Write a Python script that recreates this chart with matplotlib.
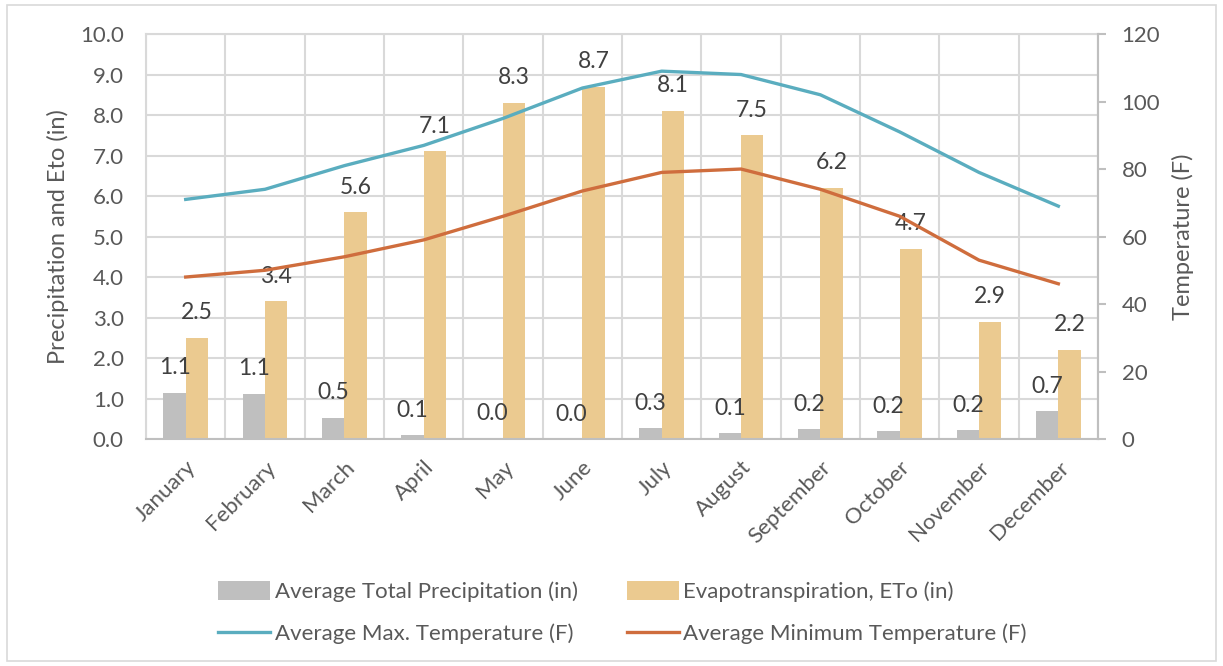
import matplotlib
matplotlib.use("Agg")
import matplotlib.pyplot as plt
from matplotlib.patches import Rectangle
import numpy as np

plt.rcParams['font.family'] = ['Lato', 'DejaVu Sans']

months = ['January', 'February', 'March', 'April', 'May', 'June', 'July',
          'August', 'September', 'October', 'November', 'December']
precip = [1.14, 1.12, 0.52, 0.09, 0.01, 0.0, 0.26, 0.14, 0.24, 0.19, 0.22, 0.68]
eto = [2.5, 3.4, 5.6, 7.1, 8.3, 8.7, 8.1, 7.5, 6.2, 4.7, 2.9, 2.2]
tmax = [71, 74, 81, 87, 95, 104, 109, 108, 102, 91, 79, 69]
tmin = [48, 50, 54, 59, 66, 73.5, 79, 80, 74, 66, 53, 46]

txt = '#595959'
grid_c = '#d9d9d9'

fig = plt.figure(figsize=(12.23, 6.66), dpi=100)
fig.patches.append(Rectangle((0.006, 0.008), 0.988, 0.984, transform=fig.transFigure,
                             fill=False, edgecolor='#d9d9d9', linewidth=1.2))
ax = fig.add_axes([0.1194, 0.3408, 0.7784, 0.6081])
x = np.arange(len(months))
w = 0.28

b1 = ax.bar(x - w/2, precip, w, color='#bfbfbf', label='Average Total Precipitation (in)', zorder=2)
b2 = ax.bar(x + w/2, eto, w, color='#ebca90', label='Evapotranspiration, ETo (in)', zorder=2)

for xi, v in zip(x, precip):
    ax.annotate('%.1f' % v, (xi - w/2, v), xytext=(0, 18), textcoords='offset points',
                ha='center', va='center', fontsize=16.5, color='#404040')
for xi, v in zip(x, eto):
    ax.annotate('%.1f' % v, (xi + w/2, v), xytext=(0, 18), textcoords='offset points',
                ha='center', va='center', fontsize=16.5, color='#404040')

ax.set_xlim(-0.5, 11.5)
ax.set_ylim(0, 10)
ax.set_yticks(np.arange(0, 10.1, 1.0))
ax.set_yticklabels(['%.1f' % t for t in np.arange(0, 10.1, 1.0)])
ax.set_xticks(x)
ax.set_xticklabels(months, rotation=45, ha='right', rotation_mode='anchor')
ax.set_xticks(np.arange(-0.5, 12, 1), minor=True)
ax.tick_params(axis='x', which='both', length=0, pad=13, labelsize=16, colors=txt)
ax.tick_params(axis='y', length=0, pad=16, labelsize=16, colors=txt)
ax.grid(axis='y', color=grid_c, linewidth=1.5)
ax.grid(axis='x', which='minor', color=grid_c, linewidth=1.5)
ax.set_axisbelow(True)
for s in ax.spines.values():
    s.set_color(grid_c)
    s.set_linewidth(1.5)
ax.spines['bottom'].set_color('#bfbfbf')
ax.set_ylabel('Precipitation and Eto (in)', fontsize=17, color=txt)
ax.yaxis.set_label_coords(-0.081, 0.5)

ax2 = ax.twinx()
l1, = ax2.plot(x, tmax, color='#5aadbf', linewidth=2.4, label='Average Max. Temperature (F)')
l2, = ax2.plot(x, tmin, color='#cf6d3d', linewidth=2.4, label='Average Minimum Temperature (F)')
ax2.set_ylim(0, 120)
ax2.set_yticks(np.arange(0, 121, 20))
ax2.tick_params(axis='y', length=6, width=1.5, color='#bfbfbf', pad=11, labelsize=16, colors=txt)
for s in ax2.spines.values():
    s.set_visible(False)
ax2.spines['right'].set_visible(True)
ax2.spines['right'].set_color('#bfbfbf')
ax2.spines['right'].set_linewidth(1.5)
ax2.set_ylabel('Temperature (F)', fontsize=17, color=txt)
ax2.yaxis.set_label_coords(1.078, 0.5)

fig.legend([b1, l1, b2, l2],
           ['Average Total Precipitation (in)', 'Average Max. Temperature (F)',
            'Evapotranspiration, ETo (in)', 'Average Minimum Temperature (F)'],
           ncol=2, loc='center', bbox_to_anchor=(0.509, 0.08), frameon=False,
           fontsize=16, labelcolor=txt, handlelength=2.35, handleheight=0.9,
           handletextpad=0.2, columnspacing=2.2, labelspacing=0.95)

fig.savefig('out.png', dpi=100)
